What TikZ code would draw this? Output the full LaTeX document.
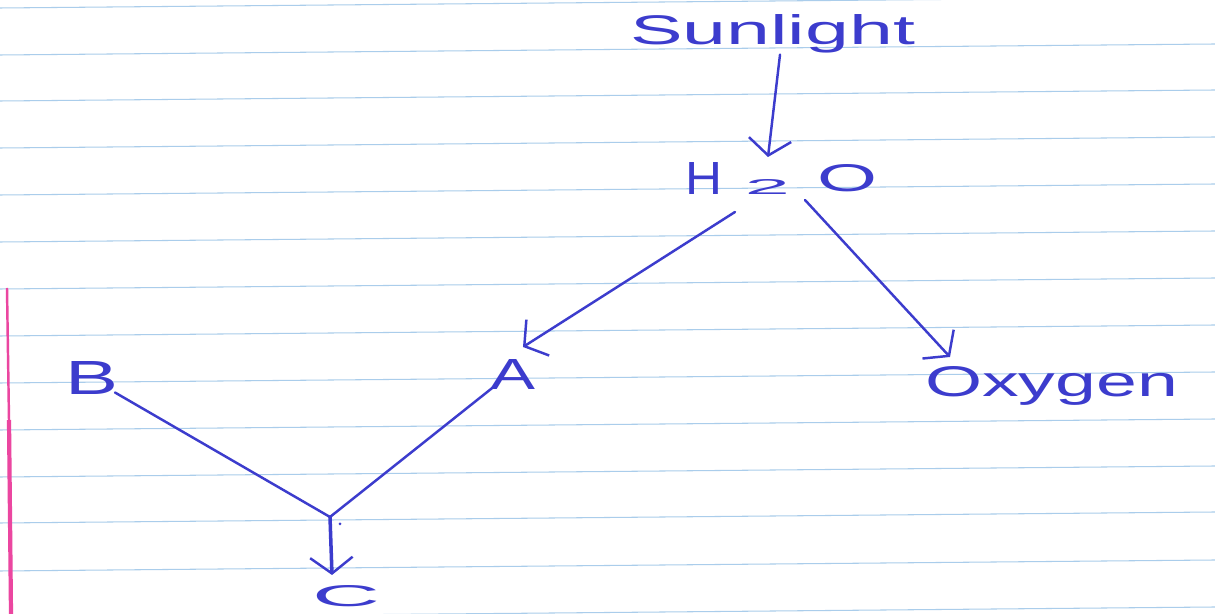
\documentclass[tikz,border=0pt]{standalone}
\usepackage{fontspec}
\setmainfont{Liberation Sans}
\usetikzlibrary{arrows.meta}
\definecolor{pen}{RGB}{60,60,205}
\definecolor{paperrule}{RGB}{170,205,235}
\definecolor{marginpink}{RGB}{235,70,160}
\begin{document}
\begin{tikzpicture}[x=0.02cm,y=-0.02cm,
  lbl/.style={inner sep=0pt, outer sep=0pt, text=pen, anchor=north west},
  pen line/.style={draw=pen, line width=1.4pt, line cap=round},
  arr/.style={pen line, -{Straight Barb[length=0.32cm,width=0.85cm,line width=1.4pt]}}
]
\useasboundingbox (0,0) rectangle (1215,614);
\fill[white] (0,0) rectangle (1215,614);
% ruled paper
\foreach \y in {8,55,101,148,195,242,289,336,383,430,477,523,571,618}
  \draw[paperrule, line width=0.6pt] (0,\y) -- (1215,{\y-11});
\draw[marginpink, line width=1.4pt] (7,288) -- (9,420);
\draw[marginpink, line width=2.4pt] (9,420) -- (11,614);
% labels
\node[lbl] (sun) at (630,15) {\resizebox{5.7cm}{0.6cm}{Sunlight}};
\node[lbl] (h2o) at (685,163) {\resizebox{0.74cm}{0.64cm}{H}\hspace{0.46cm}\resizebox{0.9cm}{0.3cm}{2}\hspace{0.56cm}\raisebox{0.06cm}{\resizebox{1.2cm}{0.54cm}{O}}};
\node[lbl] (oxy) at (925,367) {\resizebox{5.06cm}{0.6cm}{Oxygen}};
\node[lbl] (A) at (490,360) {\resizebox{0.9cm}{0.6cm}{A}};
\node[lbl] (B) at (65,362) {\resizebox{1.06cm}{0.66cm}{B}};
\node[lbl] (C) at (312,586) {\resizebox{1.36cm}{0.42cm}{C}};
\coordinate (j) at (330,517);
% connectors
\draw[arr] ([xshift=0.15cm,yshift=-0.02cm]sun.south) -- ([xshift=-0.27cm,yshift=0.12cm]h2o.north);
\draw[arr] ([xshift=-0.93cm,yshift=-0.34cm]h2o.south) -- ([xshift=0.21cm,yshift=0.26cm]A.north);
\draw[arr] ([xshift=0.47cm,yshift=-0.1cm]h2o.south) -- ([xshift=0.5cm,yshift=0.2cm]oxy.north west);
\draw[pen line] ([xshift=-0.06cm,yshift=0.05cm]B.south east) -- (j);
\draw[pen line] ([xshift=0.12cm,yshift=0.1cm]A.south west) -- (j);
\draw[arr, line width=2pt] (j) -- ([xshift=-0.28cm,yshift=0.22cm]C.north);
\fill[pen] (340,524) circle (1.5);
\end{tikzpicture}
\end{document}
